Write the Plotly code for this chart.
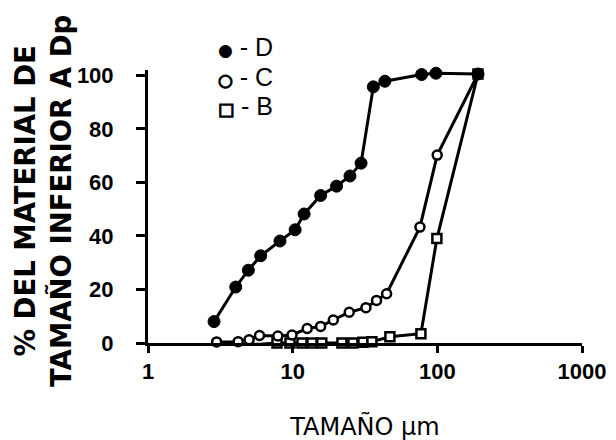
import plotly.graph_objects as go

# Series D (filled circles)
D_x = [2.86, 4.04, 4.94, 6.01, 8.17, 10.4, 12.0, 15.6, 20.1, 24.9, 29.7, 36.1, 43.4, 77.9, 97.8, 191]
D_y = [8.0, 20.9, 27.2, 32.6, 38.1, 42.3, 48.2, 55.1, 58.6, 62.4, 67.2, 95.7, 97.8, 100.3, 100.8, 100.5]

# Series C (open circles)
C_x = [2.98, 4.2, 5.0, 5.9, 7.9, 9.9, 12.6, 15.6, 19.1, 24.6, 32.1, 38.0, 44.6, 75.8, 99.8, 191]
C_y = [0.4, 0.5, 1.2, 2.8, 2.6, 3.0, 5.4, 6.2, 8.6, 11.5, 13.2, 15.9, 18.4, 43.3, 70.2, 100.5]

# Series B (open squares)
B_x = [5.07, 5.94, 7.79, 9.58, 11.6, 13.6, 15.9, 21.9, 26.1, 30.6, 35.3, 47.0, 77.0, 99.3, 191]
B_y = [-0.5, -0.5, 0, 0, 0, 0, 0, 0, 0, 0.3, 0.5, 2.3, 3.5, 39, 100.5]

x_ticks = [1, 10, 100, 1000]
x_ticktext = ["1", "10", "100", "1000"]
y_ticks = [0, 20, 40, 60, 80, 100]

# legend entries: glyph, label
legend_items = [("●", "D"), ("○", "C"), ("□", "B")]

FONT = "Liberation Sans, Arial, sans-serif"
WIDE = "DejaVu Sans, Liberation Sans, sans-serif"

# The page has an 8px body margin; the plot area is placed so that it lands
# at page x 148..582, y 70..343.
OFF = 8
PL, PT, PW, PH = 148, 70, 434, 273

fig = go.Figure()

styles = {
    "D": dict(symbol="circle", size=12, color="black", line=dict(color="black", width=1)),
    "C": dict(symbol="circle", size=9, color="white", line=dict(color="black", width=2.5)),
    "B": dict(symbol="square", size=9, color="white", line=dict(color="black", width=2.5)),
}
series = [("B", B_x, B_y), ("C", C_x, C_y), ("D", D_x, D_y)]

for name, xs, ys in series:
    fig.add_trace(go.Scatter(x=xs, y=ys, mode="lines+markers", name=name,
                             line=dict(color="black", width=3), marker=styles[name],
                             showlegend=False, cliponaxis=False))


def px(x):
    return (x - PL) / PW


def py(y):
    return (PT + PH - y) / PH


annotations = [dict(text="% DEL MATERIAL DE<br>TAMAÑO INFERIOR A Dp",
                    xref="paper", yref="paper", x=px(43), y=py(201),
                    xanchor="center", yanchor="middle", textangle=-90,
                    showarrow=False,
                    font=dict(family=WIDE, size=27.5, weight="bold"))]

rows = []
for glyph, label in legend_items:
    extra = "" if glyph == "●" else "stroke:black;stroke-width:1.3px;"
    rows.append(
        f"<span style='font-family:DejaVu Sans;font-size:17px;{extra}'>{glyph}</span>"
        f"<span style='font-size:25px'> - {label}</span>"
    )
annotations.append(dict(text="<br>".join(rows), xref="paper", yref="paper",
                        x=px(216), y=py(76), xanchor="left", yanchor="middle",
                        align="left", showarrow=False,
                        font=dict(family=FONT, size=22.7)))

fig.update_layout(
    width=616, height=440,
    margin=dict(l=PL - OFF, r=616 - (PL - OFF) - PW, t=PT - OFF,
                b=440 - (PT - OFF) - PH, autoexpand=False),
    paper_bgcolor="white", plot_bgcolor="white",
    font=dict(family=FONT, color="black", size=22),
    showlegend=False,
    xaxis=dict(type="log", range=[0, 3], tickvals=x_ticks, ticktext=x_ticktext,
               showline=True, linecolor="black", linewidth=3,
               ticks="outside", ticklen=7, tickwidth=2.5, tickcolor="black",
               showgrid=False, zeroline=False, automargin=False,
               tickfont=dict(family=FONT, size=22, weight="bold"),
               title=dict(text="TAMAÑO µm", font=dict(family=WIDE, size=24), standoff=35)),
    yaxis=dict(range=[0, 102], tickvals=y_ticks,
               showline=True, linecolor="black", linewidth=3,
               ticks="outside", ticklen=9, tickwidth=2.5, tickcolor="black",
               showgrid=False, zeroline=False, automargin=False,
               ticklabelstandoff=18,
               tickfont=dict(family=FONT, size=22, weight="bold")),
    annotations=annotations,
)

fig.write_html("out.html")
